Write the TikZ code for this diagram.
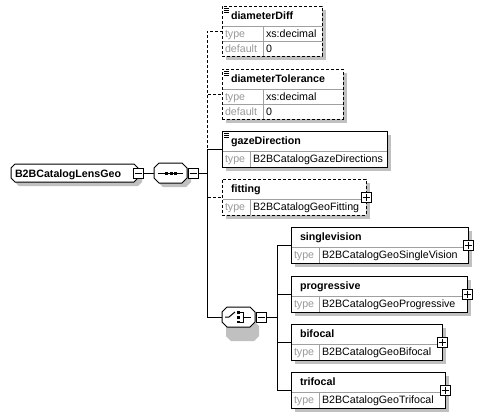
\documentclass[tikz,border=0pt]{standalone}
\usepackage{fontspec}
\setmainfont{Liberation Sans}
\definecolor{shadowc}{HTML}{C0C0C0}
\definecolor{tgray}{HTML}{999999}
\definecolor{lgray}{HTML}{A0A0A0}
\tikzset{
  every node/.style={inner sep=0pt, outer sep=0pt},
  conn/.style={line width=1pt},
  optline/.style={dash pattern=on 3pt off 2pt},
  ttl/.style={anchor=base west, font=\fontsize{10.67}{12}\selectfont\bfseries},
  lbl/.style={anchor=base west, font=\fontsize{10.67}{12}\selectfont, text=tgray},
  val/.style={anchor=base west, font=\fontsize{10.67}{12}\selectfont},
  divider/.style={draw=lgray, line width=1pt},
  pmbox/.style={draw, fill=white, line width=1pt, minimum size=10pt},
}
% name, x, y, w, h, extra style
\newcommand\xbox[6]{%
  \fill[shadowc] ({#2+4},{#3+4}) rectangle ({#2+#4+4},{#3+#5+4});
  \node[draw, fill=white, line width=1pt, #6, minimum width=#4pt, minimum height=#5pt, anchor=north west] (#1) at (#2,#3) {};
}
% name, x, y, title
\newcommand\xtitle[4]{\node[ttl] (#1t) at ({#2+9},{#3+13.5}) {#4};}
% name, x, ytop, w, cw, h, label, value
\newcommand\xrow[8]{%
  \draw[divider] ({#2+0.5},#3) -- ({#2+#4-0.5},#3);
  \draw[divider] ({#2+#5},#3) -- ({#2+#5},{#3+#6});
  \node[lbl] (#1l) at ({#2+3},{#3+11.5}) {#7};
  \node[val] (#1v) at ({#2+#5+3},{#3+11.5}) {#8};
}
% name, cx, cy
\newcommand\xplus[3]{%
  \node[pmbox] (#1) at (#2,#3) {};
  \draw[line width=1pt] ({#2-3.5},#3) -- ({#2+3.5},#3) (#2,{#3-3.5}) -- (#2,{#3+3.5});
}
\newcommand\xminus[3]{%
  \node[pmbox] (#1) at (#2,#3) {};
  \draw[line width=1pt] ({#2-3.5},#3) -- ({#2+3.5},#3);
}
% doc icon at x,y (top-left of box)
\newcommand\xdoc[2]{%
  \draw[line width=0.8pt] ({#1+2},{#2+2}) -- ({#1+7},{#2+2}) ({#1+2},{#2+4}) -- ({#1+7},{#2+4}) ({#1+2},{#2+6}) -- ({#1+7},{#2+6});
}
% octagon x1,y1,x2,y2,c,style
\newcommand\octa[6]{%
  \path[#6] ({#1+#5},#2) -- ({#3-#5},#2) -- (#3,{#2+#5}) -- (#3,{#4-#5}) -- ({#3-#5},#4) -- ({#1+#5},#4) -- (#1,{#4-#5}) -- (#1,{#2+#5}) -- cycle;
}
\begin{document}
\begin{tikzpicture}[x=1pt,y=-1pt]
\useasboundingbox[fill=white] (0,0) rectangle (482,416);

% ---------- root ----------
\octa{15}{168}{142}{186}{4}{fill=shadowc}
\octa{11}{164}{138}{182}{4}{draw,fill=white,line width=1pt}
\node[ttl] (root) at (15,177.5) {B2BCatalogLensGeo};
\xminus{rootm}{138}{173}

% ---------- sequence ----------
\octa{158}{167}{191}{187}{5}{fill=shadowc}
\octa{154}{163}{187}{183}{5}{draw,fill=white,line width=1pt}
\node[minimum width=33pt, minimum height=20pt, anchor=west] (seq) at (154,173) {};
\draw[line width=1pt] (158,173) -- (183,173);
\fill (165,171.5) rectangle (168,174.5);
\fill (169.5,171.5) rectangle (172.5,174.5);
\fill (174,171.5) rectangle (177,174.5);
\xminus{seqm}{193}{173}
\coordinate (seqT) at (207,173);

% ---------- choice ----------
\octa{226}{321}{259}{341}{5}{fill=shadowc}
\octa{222}{307}{255}{327}{5}{draw,fill=white,line width=1pt}
\node[minimum width=33pt, minimum height=20pt, anchor=west] (choice) at (222,317) {};
\draw[line width=1pt] (225,317) -- (229,317) -- (235,312);
\fill (237,311) rectangle (240,313.5);
\fill (237,315.5) rectangle (240,318.5);
\fill (237,320.5) rectangle (240,323);
\draw[line width=1pt] (240,312) -- (243,312) -- (243,322) -- (240,322) (243,317) -- (251,317);
\xminus{choicem}{261}{317}
\coordinate (chT) at (277,317);

% ---------- elements of the sequence ----------
\xbox{dd}{222}{6}{100}{50}{optline}
\xdoc{222}{6}
\xtitle{dd}{222}{6}{diameterDiff}
\xrow{ddtype}{222}{26}{100}{41}{15}{type}{xs:decimal}
\xrow{dddef}{222}{41}{100}{41}{15}{default}{0}

\xbox{dt}{222}{69}{121}{50}{optline}
\xdoc{222}{69}
\xtitle{dt}{222}{69}{diameterTolerance}
\xrow{dttype}{222}{89}{121}{41}{15}{type}{xs:decimal}
\xrow{dtdef}{222}{104}{121}{41}{15}{default}{0}

\xbox{gd}{222}{131}{165}{36}{}
\xdoc{222}{131}
\xtitle{gd}{222}{131}{gazeDirection}
\xrow{gdtype}{222}{151}{165}{28}{16}{type}{B2BCatalogGazeDirections}

\xbox{fit}{222}{179}{144}{36}{optline}
\xtitle{fit}{222}{179}{fitting}
\xrow{fittype}{222}{199}{144}{28}{16}{type}{B2BCatalogGeoFitting}
\xplus{fitp}{366}{197}

% ---------- elements of the choice ----------
\xbox{sv}{291}{227}{177}{36}{}
\xtitle{sv}{291}{227}{singlevision}
\xrow{svtype}{291}{247}{177}{28}{16}{type}{B2BCatalogGeoSingleVision}
\xplus{svp}{468}{245}

\xbox{pr}{291}{276}{176}{36}{}
\xtitle{pr}{291}{276}{progressive}
\xrow{prtype}{291}{296}{176}{28}{16}{type}{B2BCatalogGeoProgressive}
\xplus{prp}{467}{294}

\xbox{bf}{291}{324}{151}{36}{}
\xtitle{bf}{291}{324}{bifocal}
\xrow{bftype}{291}{344}{151}{28}{16}{type}{B2BCatalogGeoBifocal}
\xplus{bfp}{442}{342}

\xbox{tf}{291}{372}{154}{36}{}
\xtitle{tf}{291}{372}{trifocal}
\xrow{tftype}{291}{392}{154}{28}{16}{type}{B2BCatalogGeoTrifocal}
\xplus{tfp}{445}{390}

% ---------- connectors ----------
\draw[conn] (rootm.east) -- (seq.west);
\draw[conn] (seqm.east) -- (seqT);
\draw[conn,optline] (seqT) |- (dd.west);
\draw[conn,optline] (seqT) |- (dt.west);
\draw[conn,optline] (seqT) |- (fit.west);
\draw[conn] (seqT) |- (gd.west);
\draw[conn] (seqT) |- (choice.west);
\draw[conn] (choicem.east) -- (chT);
\draw[conn] (chT) |- (sv.west);
\draw[conn] (chT) |- (pr.west);
\draw[conn] (chT) |- (bf.west);
\draw[conn] (chT) |- (tf.west);
\end{tikzpicture}
\end{document}
